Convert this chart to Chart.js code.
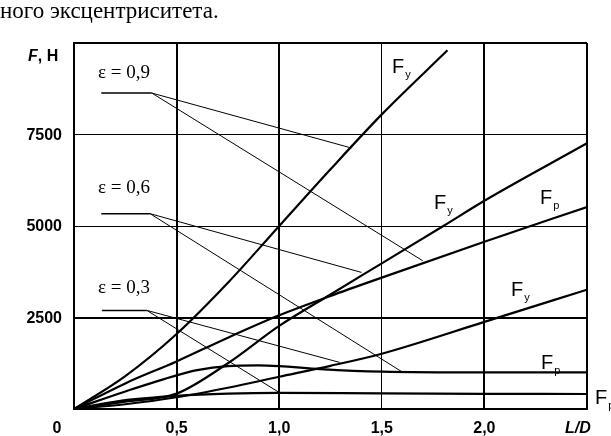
<!DOCTYPE html>
<html>
<head>
<meta charset="utf-8">
<script src="https://cdn.jsdelivr.net/npm/chart.js@4"></script>
<style>
  body { margin: 0; background: #fff; }
  #wrap { width: 611px; height: 436px; }
</style>
</head>
<body>
<div id="wrap"><canvas id="myChart" width="611" height="436"></canvas></div>
<script>
// curve data (x = L/D, y = F in N)
const fy09X = [0, 0.25, 0.5, 0.75, 1.0, 1.25, 1.5, 1.82];
const fy09Y = [0, 900, 2050, 3450, 5000, 6550, 8050, 9800];

const fp09X = [0, 0.25, 0.5, 0.75, 1.0, 1.25, 1.5, 2.0, 2.5];
const fp09Y = [0, 700, 1300, 1950, 2560, 3090, 3590, 4570, 5520];

const fy06X = [0, 0.25, 0.5, 0.75, 1.0, 1.25, 1.5, 1.8, 2.0, 2.5];
const fy06Y = [0, 200, 420, 1250, 2270, 3130, 3980, 5000, 5690, 7260];

const fp06X = [0, 0.25, 0.5, 0.6, 0.75, 0.9, 1.0, 1.2, 1.5, 2.0, 2.5];
const fp06Y = [0, 480, 920, 1060, 1170, 1190, 1170, 1090, 1020, 1000, 1000];

const fy03X = [0, 0.25, 0.5, 0.75, 1.0, 1.25, 1.5, 2.0, 2.5];
const fy03Y = [0, 130, 320, 580, 880, 1180, 1510, 2380, 3260];

const fp03X = [0, 0.25, 0.5, 0.75, 1.0, 1.5, 2.0, 2.5];
const fp03Y = [0, 240, 360, 420, 440, 425, 415, 410];

// leader lines from the eccentricity labels
const lead09 = [[0.133, 8633], [0.379, 8633], [1.352, 7131], [1.699, 4052]];
const lead06 = [[0.133, 5336], [0.371, 5336], [1.401, 3732], [1.595, 1027]];
const lead03 = [[0.136, 2694], [0.355, 2694], [1.295, 1273], [1.004, 437]];

const xTicks = [0.5, 1.0, 1.5, 2.0];
const xTickLabels = ["0,5", "1,0", "1,5", "2,0"];
const yTicks = [2500, 5000, 7500];
const yTickLabels = ["2500", "5000", "7500"];

const epsLabels = ["ε = 0,9", "ε = 0,6", "ε = 0,3"];
const captionText = "ного эксцентриситета.";

const pts = (xs, ys) => xs.map((x, i) => ({ x: x, y: ys[i] }));
const seg = (a, b) => [{ x: a[0], y: a[1] }, { x: b[0], y: b[1] }];

const curve = (xs, ys) => ({
  data: pts(xs, ys),
  showLine: true,
  borderColor: "#000",
  borderWidth: 2.2,
  pointRadius: 0,
  cubicInterpolationMode: "monotone",
  fill: false,
});

const leader = (a, b, w) => ({
  data: seg(a, b),
  showLine: true,
  borderColor: "#000",
  borderWidth: w,
  pointRadius: 0,
  fill: false,
});

const datasets = [
  curve(fy09X, fy09Y),
  curve(fp09X, fp09Y),
  curve(fy06X, fy06Y),
  curve(fp06X, fp06Y),
  curve(fy03X, fy03Y),
  curve(fp03X, fp03Y),
];
[lead09, lead06, lead03].forEach((l) => {
  datasets.push(leader(l[0], l[1], 1.5));
  datasets.push(leader(l[1], l[2], 1));
  datasets.push(leader(l[1], l[3], 1));
});

// text drawn on top: tick labels, axis names, curve names
const textPlugin = {
  id: "texts",
  afterDraw(chart) {
    const c = chart.ctx;
    const xs = chart.scales.x;
    const ys = chart.scales.y;
    c.save();
    c.fillStyle = "#000";

    c.font = "23px 'Liberation Serif'";
    c.textAlign = "left";
    c.textBaseline = "alphabetic";
    c.fillText(captionText, 0, 18);

    c.font = "bold 16px 'Liberation Sans'";
    c.textAlign = "right";
    c.textBaseline = "middle";
    yTicks.forEach((v, i) => {
      c.fillText(yTickLabels[i], 62, ys.getPixelForValue(v) + 1);
    });

    c.textAlign = "center";
    c.textBaseline = "alphabetic";
    xTicks.forEach((v, i) => {
      c.fillText(xTickLabels[i], xs.getPixelForValue(v), 433);
    });
    c.fillText("0", 57, 433);

    c.textAlign = "left";
    c.font = "italic bold 16px 'Liberation Sans'";
    c.fillText("L/D", 565, 433);
    c.fillText("F", 28, 61);
    const fw = c.measureText("F").width;
    c.font = "bold 16px 'Liberation Sans'";
    c.fillText(", Н", 28 + fw, 61);

    c.font = "19px 'Liberation Serif'";
    c.textAlign = "left";
    const epsY = [78, 193, 293];
    epsLabels.forEach((t, i) => c.fillText(t, 98, epsY[i]));

    const sub = (main, s, x, y) => {
      c.font = "20px 'Liberation Sans'";
      c.fillText(main, x, y);
      const w = c.measureText(main).width;
      c.font = "11px 'Liberation Sans'";
      c.fillText(s, x + w + 1, y + 5);
    };
    sub("F", "y", 392, 73);
    sub("F", "y", 434, 209);
    sub("F", "p", 540, 204);
    sub("F", "y", 511, 296);
    sub("F", "p", 541, 369);
    sub("F", "p", 595, 404);
    c.restore();
  },
};

const ctx = document.getElementById("myChart").getContext("2d");
new Chart(ctx, {
  type: "scatter",
  data: { datasets: datasets },
  options: {
    responsive: false,
    animation: false,
    devicePixelRatio: 1,
    layout: { padding: { top: 43, right: 24, left: 0, bottom: 0 } },
    plugins: {
      legend: { display: false },
      tooltip: { enabled: false },
    },
    scales: {
      x: {
        type: "linear",
        min: 0,
        max: 2.5,
        ticks: { stepSize: 0.5, display: false },
        grid: {
          color: "#000",
          drawTicks: false,
          lineWidth: (c) => (c.tick && c.tick.value === 1.5 ? 1 : 2),
        },
        border: { color: "#000", width: 2 },
        afterFit: (s) => { s.height = 27; },
      },
      y: {
        type: "linear",
        min: 0,
        max: 10000,
        ticks: { stepSize: 2500, display: false },
        grid: {
          color: "#000",
          drawTicks: false,
          lineWidth: (c) => (c.tick && (c.tick.value === 5000 || c.tick.value === 7500) ? 1 : 2),
        },
        border: { color: "#000", width: 2 },
        afterFit: (s) => { s.width = 74; },
      },
    },
  },
  plugins: [textPlugin],
});
</script>
</body>
</html>
